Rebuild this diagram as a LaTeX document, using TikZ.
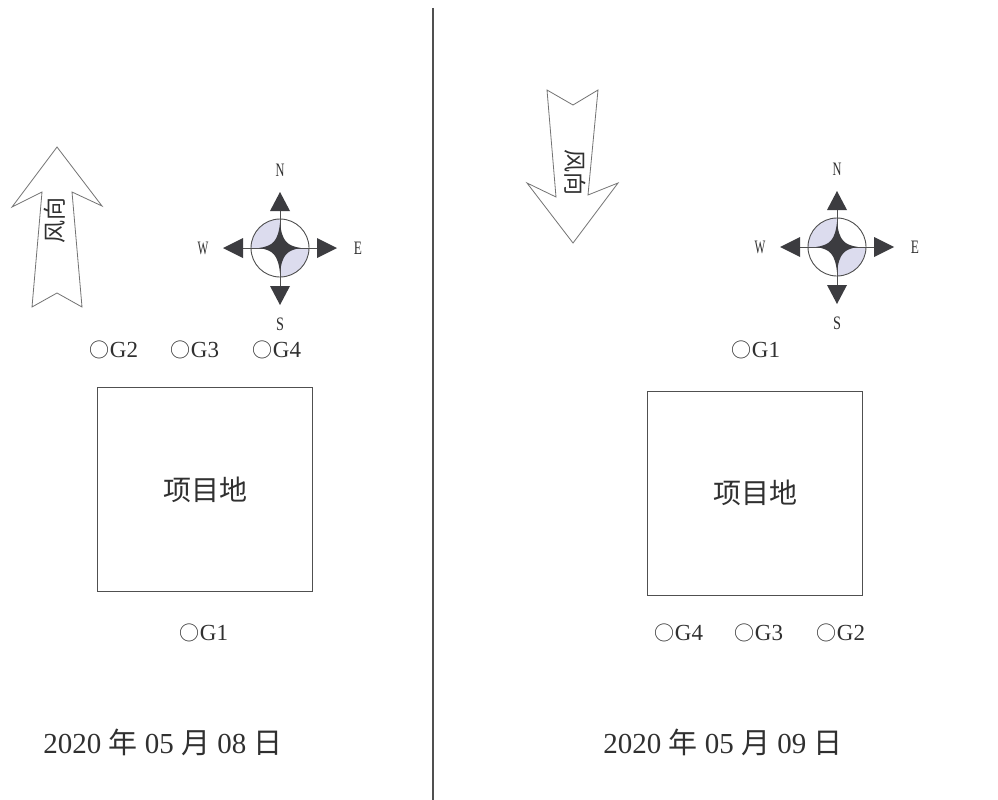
\documentclass[tikz,border=0pt]{standalone}
\usepackage{fontspec}
\setmainfont{Liberation Serif}
\newfontfamily\cjk{Noto Sans CJK SC}
\definecolor{lav}{HTML}{DCDCEE}
\definecolor{darkfill}{HTML}{3C3C40}
\definecolor{linec}{HTML}{505050}
\definecolor{txt}{HTML}{303030}
\newcommand\ocirc{{\cjk\fontsize{20}{22}\selectfont ○}}
\begin{document}
\begin{tikzpicture}[x=1pt,y=-1pt,
  glab/.style={text=txt,font=\fontsize{23}{25}\selectfont,inner sep=0pt},
  datelab/.style={text=txt,font=\fontsize{29}{31}\selectfont,inner sep=0pt},
  sitelab/.style={text=txt,font=\cjk\fontsize{28}{30}\selectfont,inner sep=0pt},
  windlab/.style={text=txt,font=\cjk\fontsize{23}{25}\selectfont,inner sep=0pt},
  clab/.style={text=txt,font=\fontsize{19}{20}\selectfont,inner sep=0pt},
  site/.style={draw=linec,line width=0.9pt},
  windarrow/.style={draw=linec!80,line width=0.8pt,fill=white},
  cline/.style={draw=linec,line width=0.9pt},
  compass/.pic={
    \begin{scope}
      \clip (0,0) circle[radius=29];
      \fill[lav] (0,0) rectangle (-29,-29);
      \fill[lav] (0,0) rectangle (29,29);
    \end{scope}
    \draw[cline] (0,0) circle[radius=29];
    \draw[cline] (-38,0) -- (38,0);
    \draw[cline] (0,-38) -- (0,38);
    \fill[darkfill] (0,-25) .. controls (2,-7) and (7,-2) .. (21,0)
       .. controls (7,2) and (2,7) .. (0,25)
       .. controls (-2,7) and (-7,2) .. (-21,0)
       .. controls (-7,-2) and (-2,-7) .. cycle;
    \fill[darkfill] (0,-56) -- (10,-37) -- (-10,-37) -- cycle;
    \fill[darkfill] (0,57) -- (10,38) -- (-10,38) -- cycle;
    \fill[darkfill] (-57,0) -- (-37,-10) -- (-37,10) -- cycle;
    \fill[darkfill] (57,0) -- (37,-10) -- (37,10) -- cycle;
    \node[clab] (-n) at (0,-78) {\scalebox{0.65}[1]{N}};
    \node[clab] (-s) at (0,76) {\scalebox{0.75}[1]{S}};
    \node[clab] (-w) at (-77,0) {\scalebox{0.6}[1]{W}};
    \node[clab] (-e) at (78,0) {\scalebox{0.7}[1]{E}};
  }]
\useasboundingbox (0,0) rectangle (998,800);
\fill[white] (0,0) rectangle (998,800);

% divider
\coordinate (divtop) at (433,8);
\coordinate (divbot) at (433,800);
\draw[linec,line width=1.1pt] (divtop) -- (divbot);

% ---------- left panel ----------
\draw[windarrow] (57,147) -- (102,206) -- (72,192) -- (82,307) -- (57,293)
  -- (32,307) -- (42,192) -- (12,207) -- cycle;
\node[windlab,rotate=90] (windL) at (55,220) {风向};

\pic (compL) at (280,248) {compass};

\node[glab] (g2L) at (114,350) {\ocirc G2};
\node[glab] (g3L) at (195,350) {\ocirc G3};
\node[glab] (g4L) at (277,350) {\ocirc G4};

\node[site,minimum width=215pt,minimum height=204pt,inner sep=0pt] (siteL) at (204.5,489) {};
\node[sitelab] (siteLtxt) at (205,490) {项目地};

\node[glab] (g1L) at (204,633) {\ocirc G1};

\node[datelab] (dateL) at (163,742) {2020 {\cjk 年} 05 {\cjk 月} 08 {\cjk 日}};

% ---------- right panel ----------
\draw[windarrow] (547,90) -- (573,105) -- (598,90) -- (588,195) -- (618,183)
  -- (573,243) -- (527,183) -- (556,197) -- cycle;
\node[windlab,rotate=-90] (windR) at (575,172) {风向};

\pic (compR) at (837,247) {compass};

\node[glab] (g1R) at (756,350) {\ocirc G1};

\node[site,minimum width=215pt,minimum height=204pt,inner sep=0pt] (siteR) at (754.5,493) {};
\node[sitelab] (siteRtxt) at (755,493) {项目地};

\node[glab] (g4R) at (679,633) {\ocirc G4};
\node[glab] (g3R) at (759,633) {\ocirc G3};
\node[glab] (g2R) at (841,633) {\ocirc G2};

\node[datelab] (dateR) at (723,742) {2020 {\cjk 年} 05 {\cjk 月} 09 {\cjk 日}};
\end{tikzpicture}
\end{document}
